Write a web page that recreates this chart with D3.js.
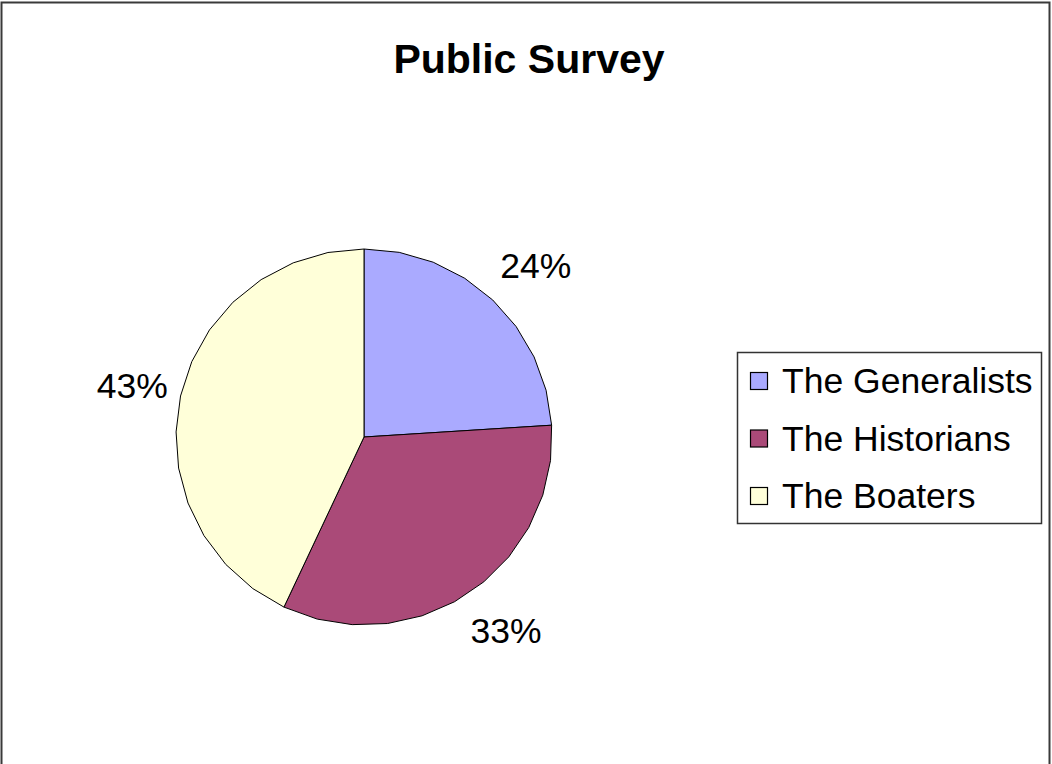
<!DOCTYPE html>
<html>
<head>
<meta charset="utf-8">
<script src="https://cdn.jsdelivr.net/npm/d3@7"></script>
<style>
  body { margin: 0; background: #fff; }
  text { font-family: "Liberation Sans", Arial, sans-serif; }
</style>
</head>
<body>
<div id="chart"></div>
<script>
const width = 1052,
    height = 764

// survey shares
const categories = ["The Generalists", "The Historians", "The Boaters"]
const shares = [24, 33, 43]
const colors = ["#aaaaff", "#aa4a78", "#ffffd9"]

const svg = d3.select("#chart")
    .append("svg")
        .attr("width", width)
        .attr("height", height)

// outer frame (bottom edge runs off the page)
svg.append("rect")
    .attr("x", 1.5)
    .attr("y", 2.5)
    .attr("width", 1048)
    .attr("height", 820)
    .attr("fill", "#fff")
    .attr("stroke", "#3a3a3a")
    .attr("stroke-width", 2)

svg.append("text")
    .attr("x", 529)
    .attr("y", 73)
    .attr("text-anchor", "middle")
    .attr("font-size", 41)
    .attr("font-weight", "bold")
    .text("Public Survey")

const cx = 364, cy = 437, radius = 188

const pie = d3.pie().sort(null).value(d => d)
const arcs = pie(shares)

const color = d3.scaleOrdinal().domain(d3.range(shares.length)).range(colors)

// the old office renderer draws each slice edge as a polygon
const maxStep = Math.PI / 16
const slicePath = d => {
    const n = Math.ceil((d.endAngle - d.startAngle) / maxStep)
    const pts = [[0, 0]]
    d3.range(n + 1).forEach(k => {
        const a = d.startAngle + (d.endAngle - d.startAngle) * k / n
        pts.push(d3.pointRadial(a, radius))
    })
    return d3.line()(pts) + "Z"
}

const g = svg.append("g").attr("transform", `translate(${cx},${cy})`)

g.selectAll("path")
    .data(arcs)
    .enter()
    .append("path")
        .attr("d", slicePath)
        .attr("fill", (d, i) => color(i))
        .attr("stroke", "#000")
        .attr("stroke-width", 1)
        .attr("stroke-linejoin", "round")

// labels sit on a slightly flattened ring outside the pie
const mid = d => (d.startAngle + d.endAngle) / 2
g.selectAll("text.pct")
    .data(arcs)
    .enter()
    .append("text")
        .attr("class", "pct")
        .attr("x", d => 243 * Math.sin(mid(d)) + 5.5)
        .attr("y", d => -234 * Math.cos(mid(d)) + 12)
        .attr("text-anchor", "middle")
        .attr("font-size", 35.5)
        .text(d => d.data + "%")

// legend
const legend = svg.append("g")

legend.append("rect")
    .attr("x", 737.5)
    .attr("y", 352.5)
    .attr("width", 304)
    .attr("height", 171)
    .attr("fill", "#fff")
    .attr("stroke", "#333")
    .attr("stroke-width", 1.5)

const rowY = d3.scalePoint().domain(categories).range([393, 508])

const items = legend.selectAll("g.item")
    .data(categories)
    .enter()
    .append("g")
        .attr("class", "item")

items.append("rect")
    .attr("x", 750.5)
    .attr("y", d => rowY(d) - 20.5)
    .attr("width", 17)
    .attr("height", 17)
    .attr("fill", (d, i) => color(i))
    .attr("stroke", "#000")
    .attr("stroke-width", 1.2)

items.append("text")
    .attr("x", 782)
    .attr("y", d => rowY(d))
    .attr("font-size", 35.5)
    .text(d => d)
</script>
</body>
</html>
